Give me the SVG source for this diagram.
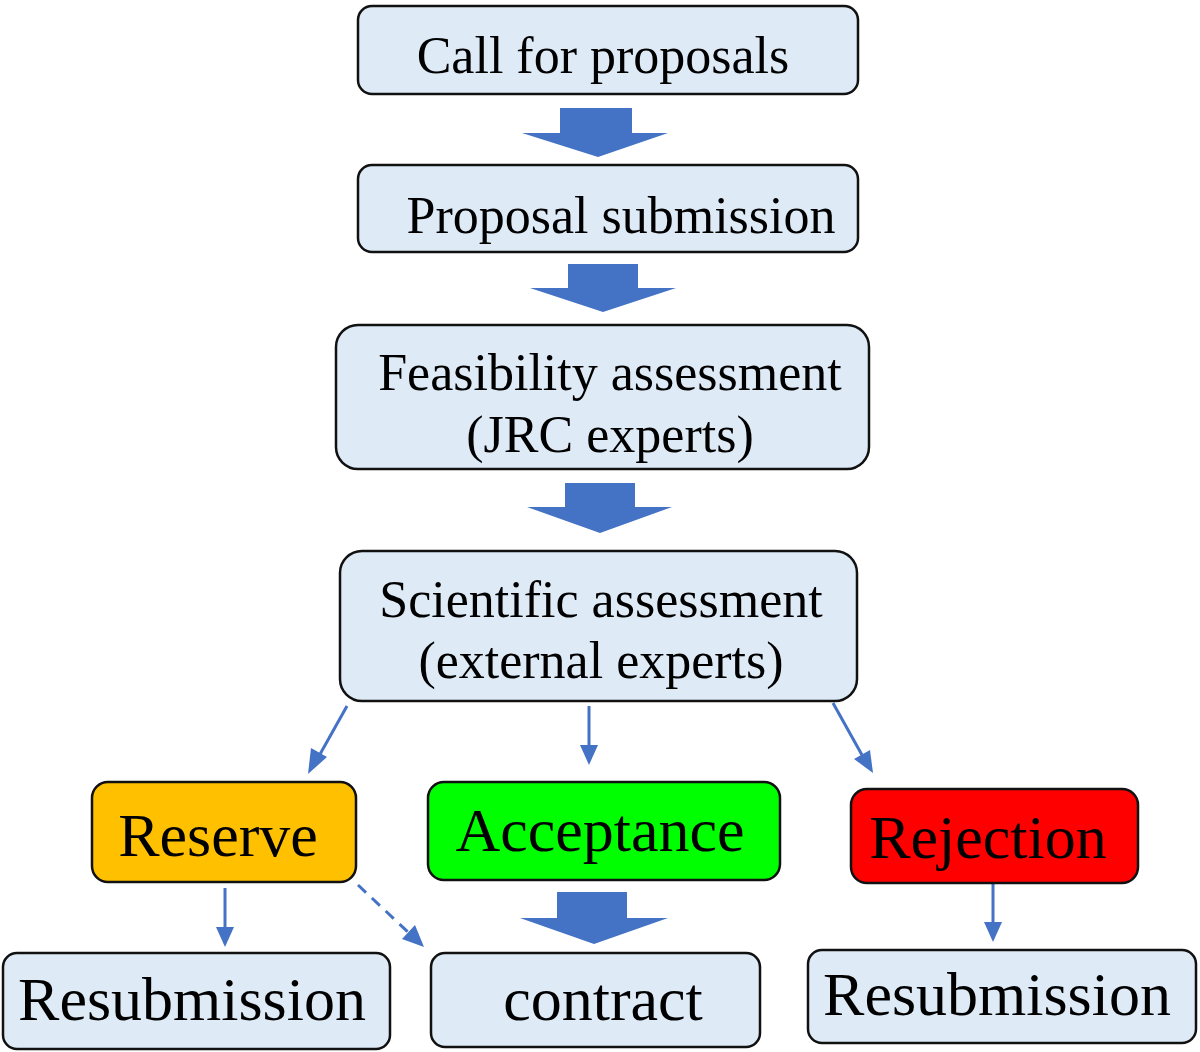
<svg xmlns="http://www.w3.org/2000/svg" width="1200" height="1052" viewBox="0 0 1200 1052">
<style>
.box{fill:#DEEBF7;stroke:#111;stroke-width:2.5}
.t{font-family:"Liberation Serif","Times New Roman",serif;font-size:52px;fill:#000;text-anchor:middle}
.tb{font-family:"Liberation Serif","Times New Roman",serif;font-size:62px;fill:#000;text-anchor:middle}
.blk{fill:#4472C4}
.ln{stroke:#4472C4;stroke-width:3;fill:none}
</style>
<defs>
<marker id="ah" viewBox="0 0 10 10" refX="9" refY="5" markerWidth="8" markerHeight="8" markerUnits="userSpaceOnUse" orient="auto" style="overflow:visible">
<path d="M0,0 L10,5 L0,10 z" fill="#4472C4" transform="scale(2.2)"/>
</marker>
</defs>
<rect width="1200" height="1052" fill="#fff"/>
<g id="connectors">
<polygon class="blk" points="560,108 632,108 632,133 668,133 598,157 522,133 560,133"/>
<polygon class="blk" points="568,264 638,264 638,288 676,288 603,312 530,288 568,288"/>
<polygon class="blk" points="565,483 635,483 635,507 672,507 600,533 527,507 565,507"/>
<polygon class="blk" points="557,892 627,892 627,918 668,918 594,944 520,918 557,918"/>
<line class="ln" x1="347" y1="706" x2="319" y2="756"/>
<polygon class="blk" points="308,774 311,748 327,757"/>
<line class="ln" x1="589" y1="706" x2="589" y2="745"/>
<polygon class="blk" points="589,765 580,745 598,745"/>
<line class="ln" x1="833" y1="703" x2="862" y2="755"/>
<polygon class="blk" points="873,773 854,759 870,750"/>
<line class="ln" x1="225" y1="888" x2="225" y2="927"/>
<polygon class="blk" points="225,947 216,927 234,927"/>
<line class="ln" x1="358" y1="885" x2="408" y2="932" stroke-dasharray="11,8"/>
<polygon class="blk" points="424,947 402,939 415,925"/>
<line class="ln" x1="993" y1="883" x2="993" y2="922"/>
<polygon class="blk" points="993,942 984,922 1002,922"/>
</g>
<g id="call">
<rect class="box" x="358" y="6" width="500" height="88" rx="14"/>
<text class="t" x="603" y="73">Call for proposals</text>
</g>
<g id="submission">
<rect class="box" x="358" y="165" width="500" height="87" rx="14"/>
<text class="t" x="621" y="233">Proposal submission</text>
</g>
<g id="feasibility">
<rect class="box" x="336" y="325" width="533" height="144" rx="22"/>
<text class="t" x="610" y="390">Feasibility assessment</text>
<text class="t" x="610" y="452">(JRC experts)</text>
</g>
<g id="scientific">
<rect class="box" x="340" y="551" width="517" height="150" rx="22"/>
<text class="t" x="601" y="617">Scientific assessment</text>
<text class="t" x="601" y="678">(external experts)</text>
</g>
<g id="reserve">
<rect x="92" y="782" width="264" height="100" rx="16" fill="#FFC000" stroke="#111" stroke-width="2.5"/>
<text class="tb" x="218" y="856">Reserve</text>
</g>
<g id="acceptance">
<rect x="428" y="782" width="352" height="98" rx="16" fill="#00FF00" stroke="#111" stroke-width="2.5"/>
<text class="tb" x="600" y="851">Acceptance</text>
</g>
<g id="rejection">
<rect x="851" y="789" width="287" height="94" rx="16" fill="#FF0000" stroke="#111" stroke-width="2.5"/>
<text class="tb" x="988" y="858">Rejection</text>
</g>
<g id="resub-left">
<rect class="box" x="3" y="953" width="387" height="96" rx="14"/>
<text class="tb" x="192" y="1020">Resubmission</text>
</g>
<g id="contract">
<rect class="box" x="431" y="953" width="329" height="94" rx="14"/>
<text class="tb" x="603" y="1020">contract</text>
</g>
<g id="resub-right">
<rect class="box" x="808" y="950" width="388" height="93" rx="14"/>
<text class="tb" x="997" y="1015">Resubmission</text>
</g>
</svg>
